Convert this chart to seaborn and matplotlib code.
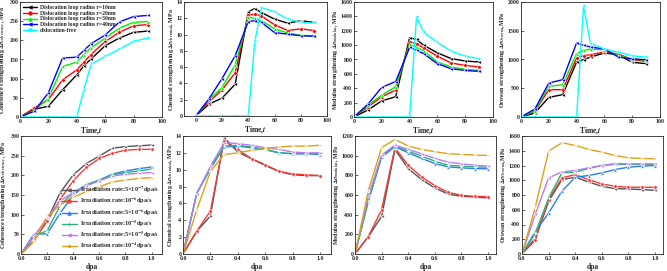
import numpy as np
import pandas as pd
import matplotlib
matplotlib.use("Agg")
import matplotlib.pyplot as plt
from matplotlib.lines import Line2D
import seaborn as sns

# ---------------- data ----------------
time = [0, 10, 20, 30, 40, 45, 50, 60, 70, 80, 90]
top_labels = ["Dislocation loop radius r=10nm", "Dislocation loop radius r=20nm",
              "Dislocation loop radius r=30nm", "Dislocation loop radius r=40nm",
              "dislocation-free"]

coh_time = [
    [0, 20, 28, 71, 110, 134, 151, 186, 206, 221, 224],
    [0, 23, 45, 97, 123, 143, 163, 197, 221, 238, 241],
    [0, 17, 48, 132, 143, 163, 180, 206, 232, 247, 249],
    [0, 15, 63, 154, 156, 174, 191, 214, 248, 262, 265],
    [0, 0, 0, 0, 0, 71, 137, 158, 177, 197, 206],
]
chem_time = [
    [0, 1.45, 2.2, 3.9, 12.8, 13.2, 12.7, 11.9, 11.4, 11.7, 11.5],
    [0, 1.75, 3.2, 5.3, 12.4, 12.5, 12.3, 11.2, 10.5, 10.7, 10.5],
    [0, 2.0, 3.5, 6.3, 12.1, 12.0, 11.7, 10.7, 10.2, 9.9, 9.85],
    [0, 2.1, 4.6, 7.4, 11.6, 11.7, 11.5, 10.25, 10.05, 9.85, 9.8],
    [0, 0, 0, 0, 0, 9.15, 13.3, 12.8, 11.9, 11.5, 11.4],
]
mod_time = [
    [0, 98, 225, 282, 1103, 1079, 1000, 892, 812, 779, 765],
    [0, 141, 282, 375, 1046, 1018, 962, 845, 751, 718, 695],
    [0, 164, 305, 422, 1009, 976, 920, 765, 695, 662, 648],
    [0, 178, 413, 493, 967, 929, 882, 741, 671, 648, 634],
    [0, 0, 0, 0, 0, 1398, 1178, 1037, 915, 845, 812],
]
oro_time = [
    [0, 70, 342, 388, 957, 997, 1043, 1113, 1084, 951, 928],
    [0, 99, 475, 475, 1026, 1067, 1084, 1130, 1096, 997, 968],
    [0, 110, 533, 562, 1101, 1159, 1183, 1171, 1067, 1009, 986],
    [0, 139, 591, 649, 1287, 1246, 1217, 1183, 1043, 1009, 997],
    [0, 0, 0, 0, 0, 1925, 1275, 1183, 1125, 1067, 1038],
]

dpa = [0, 0.1, 0.2, 0.3, 0.4, 0.5, 0.6, 0.7, 0.8, 0.9, 1.0]
bot_labels = [r"Irradiation rate:5×10$^{-7}$dpa/s", r"Irradiation rate:10$^{-6}$dpa/s",
              r"Irradiation rate:5×10$^{-6}$dpa/s", r"Irradiation rate:10$^{-5}$dpa/s",
              r"Irradiation rate:5×10$^{-5}$dpa/s", r"Irradiation rate:10$^{-4}$dpa/s"]

coh_dpa = [
    [0, 35, 86, 156, 201, 230, 249, 269, 273, 275, 277],
    [0, 34, 83, 139, 186, 220, 243, 256, 264, 266, 266],
    [0, 51, 51, 104, 150, 175, 188, 203, 211, 217, 221],
    [0, 46, 59, 123, 156, 176, 188, 201, 207, 211, 216],
    [0, 46, 91, 135, 156, 173, 186, 198, 203, 205, 207],
    [0, 32, 95, 125, 144, 159, 171, 183, 188, 192, 194],
]
chem_dpa = [
    [0, 2.7, 4.5, 13.8, 12.1, 11.3, 10.5, 9.8, 9.4, 9.3, 9.3],
    [0, 2.7, 5.1, 13.4, 12.4, 11.3, 10.6, 9.8, 9.5, 9.4, 9.3],
    [0, 7.2, 10.1, 12.7, 12.8, 12.6, 12.4, 12.0, 11.9, 11.9, 11.8],
    [0, 7.2, 10.2, 12.8, 12.9, 12.7, 12.4, 12.0, 11.9, 11.9, 11.9],
    [0, 7.1, 10.4, 13.2, 13.1, 12.9, 12.6, 12.4, 12.1, 12.0, 12.0],
    [0, 5.2, 9.8, 11.8, 12.0, 12.3, 12.5, 12.7, 12.8, 12.8, 12.9],
]
mod_dpa = [
    [0, 177, 382, 1064, 869, 757, 672, 610, 586, 580, 569],
    [0, 177, 450, 1081, 903, 784, 696, 627, 597, 586, 583],
    [0, 535, 985, 1091, 1030, 972, 920, 886, 876, 869, 866],
    [0, 542, 996, 1098, 1047, 996, 944, 903, 893, 886, 883],
    [0, 586, 1006, 1108, 1064, 1020, 972, 934, 917, 903, 893],
    [0, 644, 1081, 1166, 1098, 1064, 1040, 1020, 1013, 1006, 1002],
]
oro_dpa = [
    [0, 214, 714, 1009, 1041, 977, 918, 886, 882, 873, 864],
    [0, 191, 736, 1032, 1077, 1009, 950, 918, 905, 905, 905],
    [0, 305, 555, 850, 1041, 1064, 1100, 1145, 1177, 1191, 1200],
    [0, 282, 759, 1100, 1109, 1159, 1200, 1214, 1214, 1214, 1214],
    [0, 541, 1032, 1114, 1132, 1168, 1200, 1227, 1223, 1223, 1223],
    [0, 636, 1395, 1509, 1473, 1418, 1382, 1336, 1305, 1295, 1291],
]

top_colors = ["#000000", "#FF0000", "#00EE00", "#0000FF", "#00FFFF"]
top_markers = ["<", "o", "^", "<", "v"]
bot_colors = ["#555555", "#F03a3a", "#2a7fe8", "#2db37a", "#b77cf0", "#d9a21a"]
bot_markers = ["<", "o", "^", "+", "<", "*"]

# ---------------- style ----------------
sns.set_theme(style="ticks")
plt.rcParams["font.family"] = ["Liberation Serif", "DejaVu Serif"]
plt.rcParams["font.weight"] = "bold"
plt.rcParams["mathtext.fontset"] = "stix"
plt.rcParams["axes.linewidth"] = 0.6

W, H = 667, 271
fig = plt.figure(figsize=(W / 100, H / 100), dpi=100)


def add_ax(l, r, t, b):
    return fig.add_axes([l / W, 1 - b / H, (r - l) / W, (b - t) / H])


def style_ax(ax, xlim, ylim, yticks, xticks, ylabel, xlabel):
    ax.set_xlim(*xlim)
    ax.set_ylim(*ylim)
    ax.set_yticks(yticks)
    ax.set_xticks(xticks)
    ax.tick_params(direction="in", length=1.8, width=0.5, labelsize=4.2, pad=1.2)
    for lab in ax.get_xticklabels() + ax.get_yticklabels():
        lab.set_fontweight("bold")
    ax.set_ylabel(ylabel, fontsize=4.3, fontweight="bold", labelpad=0.4)
    ax.set_xlabel(xlabel, fontsize=5.5, fontweight="bold", labelpad=1.5)


top_axes = [add_ax(20, 162, 2, 117), add_ax(184, 327, 2, 116),
            add_ax(354, 493, 2, 117), add_ax(521, 660, 2, 117)]
bot_axes = [add_ax(21, 162, 136, 254), add_ax(183, 331, 136, 254),
            add_ax(355, 496, 136, 254), add_ax(522, 663, 136, 254)]

top_data = [coh_time, chem_time, mod_time, oro_time]
bot_data = [coh_dpa, chem_dpa, mod_dpa, oro_dpa]
ylabels = [r"Coherence strengthening $\Delta\sigma_{coherency}$, MPa",
           r"Chemical strengthening $\Delta\sigma_{chemical}$, MPa",
           r"Modulus strengthening $\Delta\sigma_{modulus}$, MPa",
           r"Orowan strengthening $\Delta\sigma_{Orowan}$,MPa"]
top_ylims = [(0, 300), (0, 14), (0, 1600), (0, 2000)]
top_yticks = [np.arange(0, 301, 50), np.arange(0, 15, 2), np.arange(0, 1601, 200), np.arange(0, 2001, 500)]
top_xlims = [(0, 100), (-9, 100), (0, 100), (0, 100)]
bot_ylims = [(0, 300), (0, 14), (0, 1200), (0, 1600)]
bot_yticks = [np.arange(0, 301, 50), np.arange(0, 15, 2), np.arange(0, 1201, 200), np.arange(0, 1601, 200)]
bot_xlims = [(0, 1.08), (0, 1.08), (0, 1.06), (0, 1.06)]

for i, ax in enumerate(top_axes):
    for j, ys in enumerate(top_data[i]):
        df = pd.DataFrame({"t": time, "v": ys})
        sns.lineplot(data=df, x="t", y="v", ax=ax, color=top_colors[j], marker=top_markers[j],
                     markersize=2.6, markeredgewidth=0.4, linewidth=1.0, legend=False)
    style_ax(ax, top_xlims[i], top_ylims[i], top_yticks[i], np.arange(0, 101, 20),
             ylabels[i], r"Time,$\mathit{t}$")

for i, ax in enumerate(bot_axes):
    for j, ys in enumerate(bot_data[i]):
        df = pd.DataFrame({"d": dpa, "v": ys})
        sns.lineplot(data=df, x="d", y="v", ax=ax, color=bot_colors[j], marker=bot_markers[j],
                     markersize=2.6, markeredgewidth=0.5, linewidth=1.0, legend=False)
    style_ax(ax, bot_xlims[i], bot_ylims[i], bot_yticks[i], np.arange(0, 1.01, 0.2),
             ylabels[i], "dpa")
    ax.set_xticklabels([f"{v:.1f}" for v in np.arange(0, 1.01, 0.2)], fontweight="bold")

top_handles = [Line2D([], [], color=c, marker=m, markersize=2.6, markeredgewidth=0.4,
                      linewidth=1.0, linestyle="-") for c, m in zip(top_colors, top_markers)]
bot_handles = [Line2D([], [], color=c, marker=m, markersize=2.6, markeredgewidth=0.5,
                      linewidth=1.0, linestyle="-") for c, m in zip(bot_colors, bot_markers)]

top_axes[0].legend(top_handles, top_labels, loc="upper left", frameon=False, handlelength=2.4,
                   labelspacing=0.12, borderaxespad=0.15, handletextpad=0.5,
                   prop={"family": ["Liberation Serif"], "weight": "bold", "size": 4.1})
bot_axes[0].legend(bot_handles, bot_labels, loc="lower right", frameon=False, handlelength=2.4,
                   labelspacing=0.08, borderaxespad=0.05, handletextpad=0.5,
                   prop={"family": ["Liberation Serif"], "weight": "bold", "size": 4.5})

fig.savefig("out.png", dpi=100)
